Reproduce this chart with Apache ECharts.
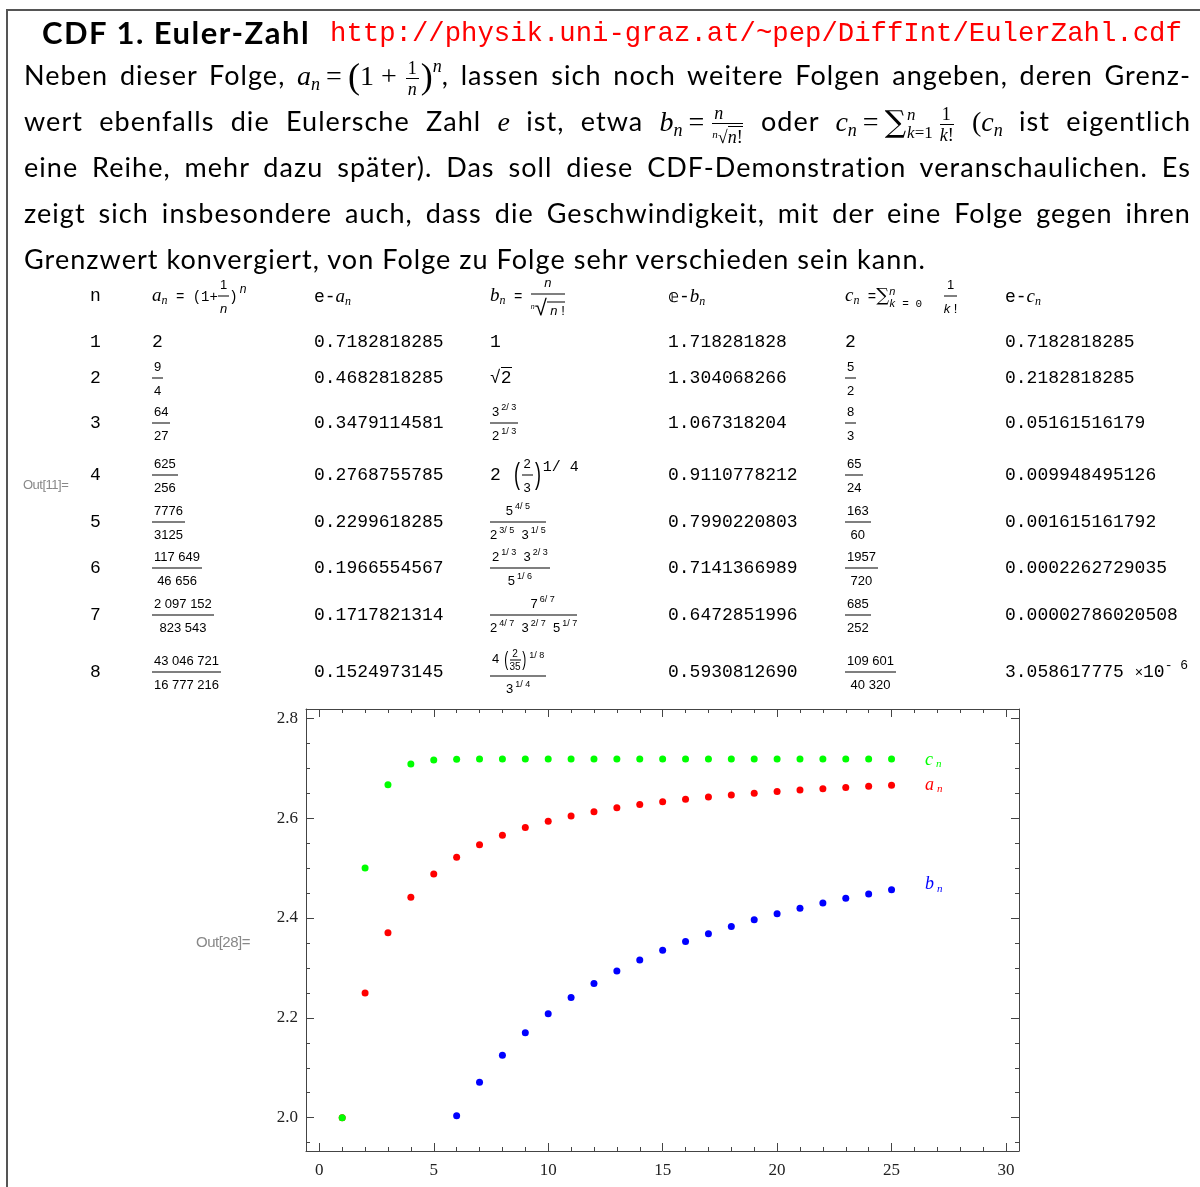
<!DOCTYPE html>
<html>
<head>
<meta charset="utf-8">
<script src="https://cdn.jsdelivr.net/npm/echarts@6/dist/echarts.min.js"></script>
<style>
  html, body { margin:0; padding:0; background:#fff; }
  #page { position:relative; width:1200px; height:1187px; overflow:hidden; }
  #chart { position:absolute; left:0; top:0; width:1200px; height:1187px; z-index:0; }
  .box { position:absolute; left:6px; top:9px; width:1300px; height:1300px; border-left:2px solid #555; border-top:2px solid #555; }
  .title { position:absolute; left:42px; top:12px; font-family:Lato, sans-serif; font-weight:bold; font-size:31px; letter-spacing:1.5px; line-height:40px; z-index:1; }
  .url { position:absolute; left:330px; top:14px; font-family:'Liberation Mono', monospace; font-size:27.3px; line-height:40px; color:#f00; z-index:1; }
  .line { position:absolute; left:24px; width:1167px; height:46px; line-height:46px; font-family:Lato, sans-serif; font-size:27px; letter-spacing:1.05px; text-align:justify; text-align-last:justify; z-index:1; white-space:nowrap; }
  .line.last { text-align-last:left; }
  .line.j { white-space:normal; }
  .m { font-family:'Liberation Serif', serif; font-size:28px; letter-spacing:0; display:inline-block; white-space:nowrap; line-height:46px; }
  .m sub { font-size:18px; vertical-align:-5px; line-height:0; }
  .m sup { font-size:18px; vertical-align:13px; line-height:0; }
  .eq { margin:0 6px; }
  .ifr { display:inline-flex; flex-direction:column; align-items:center; vertical-align:middle; font-size:18px; line-height:18px; margin:0 2px; }
  .ifr > span:first-child { border-bottom:1px solid #000; padding:0 2px 1px; align-self:stretch; text-align:center; }
  .ifr > span:last-child { padding-top:1px; }
  .bigp { font-size:36px; vertical-align:-3px; }
  .ol { border-top:1px solid #000; }
  .sig { font-family:'DejaVu Serif', serif; font-size:30px; vertical-align:-1px; }
  .lim { display:inline-flex; flex-direction:column; font-size:17px; line-height:18px; vertical-align:11px; margin-left:1px; margin-right:5px; }
  .out { position:absolute; font-family:'Liberation Sans', sans-serif; color:#888; z-index:1; letter-spacing:-0.5px; }
  .tc { position:absolute; z-index:1; transform:translateY(-50%); font-family:'Liberation Mono', monospace; font-size:18px; white-space:nowrap; line-height:20px; }
  .fr { display:inline-flex; flex-direction:column; align-items:center; vertical-align:middle; font-family:'Liberation Sans', sans-serif; font-size:13px; line-height:15px; }
  .fr > .nu { border-bottom:1px solid #000; padding:0 2px 4px; align-self:stretch; text-align:center; }
  .fr > .de { padding-top:4px; }
  .fr .fr { font-size:10px; line-height:10px; }
  .fr .fr > .nu { padding-bottom:1px; }
  .fr .fr > .de { padding-top:1px; }
  sup.ex { font-size:9px; vertical-align:6px; line-height:0; margin-left:2px; }
  .bp { font-size:30px; font-family:'Liberation Sans', sans-serif; transform:scaleX(0.6); display:inline-block; vertical-align:-4px; }
  .bp2 { font-size:20px; font-family:'Liberation Sans', sans-serif; transform:scaleX(0.6); display:inline-block; vertical-align:-2px; }
  sup.bx { font-size:15px; vertical-align:9px; line-height:0; }
  .vi { font-family:'Liberation Serif', serif; font-style:italic; font-size:19px; }
  .vs { font-family:'Liberation Serif', serif; font-style:italic; font-size:12px; vertical-align:-3px; line-height:0; }
  .sm { font-size:14px; }
  .tlim { display:inline-flex; flex-direction:column; font-size:11px; line-height:12px; vertical-align:6px; }
</style>
</head>
<body>
<div id="page">
  <div id="chart"></div>
  <div class="box"></div>
  <div class="title">CDF 1. Euler-Zahl</div>
  <div class="url">http://physik.uni-graz.at/~pep/DiffInt/EulerZahl.cdf</div>

  <div class="line j" style="top:52px">Neben dieser Folge, <span class="m"><i>a</i><sub><i>n</i></sub><span class="eq">=</span><span class="bigp">(</span>1 + <span class="ifr"><span>1</span><span><i>n</i></span></span><span class="bigp">)</span><sup><i>n</i></sup></span>, lassen sich noch weitere Folgen angeben, deren Grenz-</div>
  <div class="line j" style="top:98px">wert ebenfalls die Eulersche Zahl <span class="m"><i>e</i></span> ist, etwa <span class="m"><i>b</i><sub><i>n</i></sub><span class="eq">=</span><span class="ifr"><span><i>n</i></span><span><span style="font-size:11px;vertical-align:5px"><i>n</i></span>&#8730;<span class="ol"><i>n</i>!</span></span></span></span> oder <span class="m"><i>c</i><sub><i>n</i></sub><span class="eq">=</span><span class="sig">&#8721;</span><span class="lim"><span><i>n</i></span><span><i>k</i>=1</span></span><span class="ifr"><span>1</span><span><i>k</i>!</span></span></span> <span class="m">(<i>c</i><sub><i>n</i></sub></span> ist eigentlich</div>
  <div class="line j" style="top:144px">eine Reihe, mehr dazu später). Das soll diese CDF-Demonstration veranschaulichen. Es</div>
  <div class="line j" style="top:190px">zeigt sich insbesondere auch, dass die Geschwindigkeit, mit der eine Folge gegen ihren</div>
  <div class="line last" style="top:236px">Grenzwert konvergiert, von Folge zu Folge sehr verschieden sein kann.</div>

  <div class="out" style="left:23px;top:477px;font-size:13px">Out[11]=</div>
  <div class="out" style="left:196px;top:933px;font-size:15px">Out[28]=</div>
  <div id="table"></div>
</div>
<script>
  // Werte der Folgen fuer n = 1 .. 25
  const nValues = [1, 2, 3, 4, 5, 6, 7, 8, 9, 10, 11, 12, 13, 14, 15, 16, 17, 18, 19, 20, 21, 22, 23, 24, 25];
  const aValues = [2.0, 2.25, 2.3704, 2.4414, 2.4883, 2.5216, 2.5465, 2.5658, 2.5812, 2.5937, 2.6042, 2.6130, 2.6206,
                   2.6272, 2.6329, 2.6379, 2.6424, 2.6464, 2.6500, 2.6533, 2.6563, 2.6590, 2.6615, 2.6637, 2.6658];
  const bValues = [1.0, 1.4142, 1.6510, 1.8074, 1.9194, 2.0038, 2.0710, 2.1252, 2.1701, 2.2081, 2.2407, 2.2689, 2.2937,
                   2.3157, 2.3352, 2.3528, 2.3687, 2.3832, 2.3964, 2.4084, 2.4196, 2.4299, 2.4394, 2.4483, 2.4566];
  const cValues = [2.0, 2.5, 2.6667, 2.7083, 2.7167, 2.7181, 2.7183, 2.7183, 2.7183, 2.7183, 2.7183, 2.7183, 2.7183,
                   2.7183, 2.7183, 2.7183, 2.7183, 2.7183, 2.7183, 2.7183, 2.7183, 2.7183, 2.7183, 2.7183, 2.7183];

  // Tabelle
  const tableN = ['1', '2', '3', '4', '5', '6', '7', '8'];
  const tableANum = ['2', '9', '64', '625', '7776', '117 649', '2 097 152', '43 046 721'];
  const tableADen = ['', '4', '27', '256', '3125', '46 656', '823 543', '16 777 216'];
  const tableEA = ['0.7182818285', '0.4682818285', '0.3479114581', '0.2768755785', '0.2299618285', '0.1966554567', '0.1717821314', '0.1524973145'];
  const tableEB = ['1.718281828', '1.304068266', '1.067318204', '0.9110778212', '0.7990220803', '0.7141366989', '0.6472851996', '0.5930812690'];
  const tableCNum = ['2', '5', '8', '65', '163', '1957', '685', '109 601'];
  const tableCDen = ['', '2', '3', '24', '60', '720', '252', '40 320'];
  const tableEC = ['0.7182818285', '0.2182818285', '0.05161516179', '0.009948495126', '0.001615161792', '0.0002262729035', '0.00002786020508', '3.058617775'];

  function fr(nu, de) {
    return '<span class="fr"><span class="nu">' + nu + '</span><span class="de">' + de + '</span></span>';
  }
  function pw(b, e) {
    return b + '<sup class="ex">' + e + '</sup>';
  }
  const tableB = [
    '1',
    '&#8730;<span class="ol">2</span>',
    fr(pw('3', '2/ 3'), pw('2', '1/ 3')),
    '2 <span class="bp">(</span>' + fr('2', '3') + '<span class="bp">)</span><sup class="bx">1/ 4</sup>',
    fr(pw('5', '4/ 5'), pw('2', '3/ 5') + '&nbsp; ' + pw('3', '1/ 5')),
    fr(pw('2', '1/ 3') + '&nbsp; ' + pw('3', '2/ 3'), pw('5', '1/ 6')),
    fr('&nbsp;&nbsp;&nbsp;&nbsp;&nbsp;' + pw('7', '6/ 7'), pw('2', '4/ 7') + '&nbsp; ' + pw('3', '2/ 7') + '&nbsp; ' + pw('5', '1/ 7')),
    fr('4 <span class="bp2">(</span>' + fr('2', '35') + '<span class="bp2">)</span>' + pw('', '1/ 8'), pw('3', '1/ 4'))
  ];

  const colX = [90, 152, 314, 490, 668, 845, 1005];
  const rowY = [296, 342, 378, 423, 475, 522, 568, 615, 672];

  const header = [
    'n',
    '<i class="vi">a</i><sub class="vs">n</sub><span class="sm"> = (1+</span>' + fr('1', '<i>n</i>') + '<span class="sm">)</span><sup class="ex" style="font-size:12px;vertical-align:8px"><i>n</i></sup>',
    'e-<i class="vi">a</i><sub class="vs">n</sub>',
    '<i class="vi">b</i><sub class="vs">n</sub><span class="sm"> = </span>' + fr('<i>n</i>', '<span style="font-size:7px;vertical-align:6px"><i>n</i></span><span style="font-size:22px">&#8730;</span><span class="ol">&nbsp;<i>n</i> !</span>'),
    '&#120150;-<i class="vi">b</i><sub class="vs">n</sub>',
    '<i class="vi">c</i><sub class="vs">n</sub><span class="sm"> =</span><span style="font-family:\'DejaVu Serif\';font-size:18px">&#8721;</span><span class="tlim"><span><i>n</i></span><span><i>k</i> = 0</span></span>&nbsp; ' + fr('1', '<i>k</i> !'),
    'e-<i class="vi">c</i><sub class="vs">n</sub>'
  ];

  let html = '';
  function cell(col, row, content) {
    html += '<div class="tc" style="left:' + colX[col] + 'px;top:' + rowY[row] + 'px">' + content + '</div>';
  }
  header.forEach(function (h, i) { cell(i, 0, h); });
  for (let i = 0; i < tableN.length; i++) {
    cell(0, i + 1, tableN[i]);
    cell(1, i + 1, tableADen[i] ? fr(tableANum[i], tableADen[i]) : tableANum[i]);
    cell(2, i + 1, tableEA[i]);
    cell(3, i + 1, tableB[i]);
    cell(4, i + 1, tableEB[i]);
    cell(5, i + 1, tableCDen[i] ? fr(tableCNum[i], tableCDen[i]) : tableCNum[i]);
    cell(6, i + 1, i === 7 ? tableEC[i] + ' <span class="sm">&times;</span>10<sup style="font-size:13px;vertical-align:8px;line-height:0">- 6</sup>' : tableEC[i]);
  }
  document.getElementById('table').innerHTML = html;

  // Rahmen des Plots (Pixel) und Lage der Skala
  const frame = { left: 306, top: 709, right: 1019, bottom: 1151 };
  const x0px = 319.3, x30px = 1006;
  const y28px = 718.3, y20px = 1117.7;
  const xPerUnit = (x30px - x0px) / 30;
  const yPerUnit = (y20px - y28px) / 0.8;
  const xMin = -(x0px - frame.left) / xPerUnit;
  const xMax = 30 + (frame.right - x30px) / xPerUnit;
  const yMax = 2.8 + (y28px - frame.top) / yPerUnit;
  const yMin = 2.0 - (frame.bottom - y20px) / yPerUnit;
  const y195px = y20px + 0.05 * yPerUnit;

  const frameColor = '#444';
  const labelFont = { fontFamily: 'Liberation Serif', fontSize: 17, color: '#222' };

  function seriesData(vals, name, color, dy) {
    return nValues.map(function (n, i) {
      const item = { value: [n, vals[i]] };
      if (i === nValues.length - 1) {
        item.label = {
          show: true, position: 'right', distance: 30, offset: [0, dy],
          formatter: '{v|' + name + '}{s|n}',
          rich: {
            v: { fontFamily: 'Liberation Serif', fontStyle: 'italic', fontSize: 18, color: color },
            s: { fontFamily: 'Liberation Serif', fontStyle: 'italic', fontSize: 11, color: color, padding: [8, 0, 0, 3] }
          }
        };
      }
      return item;
    });
  }

  let chart = echarts.init(document.getElementById('chart'));
  const hidden = { show: false };
  const frameLine = { show: true, onZero: false, lineStyle: { color: frameColor } };
  chart.setOption({
    animation: false,
    grid: [
      { left: frame.left, top: frame.top, width: frame.right - frame.left, height: frame.bottom - frame.top, outerBoundsMode: 'none' },
      { left: x0px, top: frame.top, width: x30px - x0px, height: frame.bottom - frame.top, outerBoundsMode: 'none' },
      { left: frame.left, top: y28px, width: frame.right - frame.left, height: y195px - y28px, outerBoundsMode: 'none' },
      { left: frame.left, top: y28px, width: frame.right - frame.left, height: y20px - y28px, outerBoundsMode: 'none' }
    ],
    xAxis: [
      { gridIndex: 0, type: 'value', position: 'bottom', min: xMin, max: xMax, axisLine: frameLine, axisTick: hidden, axisLabel: hidden, splitLine: hidden },
      { gridIndex: 0, type: 'value', position: 'top', min: xMin, max: xMax, axisLine: frameLine, axisTick: hidden, axisLabel: hidden, splitLine: hidden },
      { gridIndex: 1, type: 'value', position: 'bottom', min: 0, max: 30, interval: 5,
        axisLine: { show: false, onZero: false }, splitLine: hidden,
        axisTick: { inside: true, length: 8, lineStyle: { color: frameColor } },
        minorTick: { show: true, splitNumber: 5, length: 4, lineStyle: { color: frameColor } },
        axisLabel: Object.assign({ margin: 11 }, labelFont) },
      { gridIndex: 1, type: 'value', position: 'top', min: 0, max: 30, interval: 5,
        axisLine: { show: false, onZero: false }, splitLine: hidden, axisLabel: hidden,
        axisTick: { inside: true, length: 8, lineStyle: { color: frameColor } },
        minorTick: { show: true, splitNumber: 5, length: 4, lineStyle: { color: frameColor } } },
      { gridIndex: 2, type: 'value', show: false, min: 0, max: 1 },
      { gridIndex: 3, type: 'value', show: false, min: 0, max: 1 }
    ],
    yAxis: [
      { gridIndex: 0, type: 'value', position: 'left', min: yMin, max: yMax, axisLine: frameLine, axisTick: hidden, axisLabel: hidden, splitLine: hidden },
      { gridIndex: 0, type: 'value', position: 'right', min: yMin, max: yMax, axisLine: frameLine, axisTick: hidden, axisLabel: hidden, splitLine: hidden },
      { gridIndex: 1, type: 'value', show: false, min: 0, max: 1 },
      { gridIndex: 2, type: 'value', position: 'left', min: 1.95, max: 2.8, interval: 0.05,
        axisLine: { show: false, onZero: false }, splitLine: hidden, axisLabel: hidden,
        axisTick: { show: true, inside: true, length: 4, lineStyle: { color: frameColor } } },
      { gridIndex: 2, type: 'value', position: 'right', min: 1.95, max: 2.8, interval: 0.05,
        axisLine: { show: false, onZero: false }, splitLine: hidden, axisLabel: hidden,
        axisTick: { show: true, inside: true, length: 4, lineStyle: { color: frameColor } } },
      { gridIndex: 3, type: 'value', position: 'left', min: 2.0, max: 2.8, interval: 0.2,
        axisLine: { show: false, onZero: false }, splitLine: hidden,
        axisTick: { show: true, inside: true, length: 8, lineStyle: { color: frameColor } },
        axisLabel: Object.assign({ margin: 8, formatter: function (v) { return v.toFixed(1); } }, labelFont) },
      { gridIndex: 3, type: 'value', position: 'right', min: 2.0, max: 2.8, interval: 0.2,
        axisLine: { show: false, onZero: false }, splitLine: hidden, axisLabel: hidden,
        axisTick: { show: true, inside: true, length: 8, lineStyle: { color: frameColor } } }
    ],
    series: [
      { name: 'a', type: 'scatter', xAxisIndex: 0, yAxisIndex: 0, symbolSize: 7, clip: true, itemStyle: { color: '#ff0000', opacity: 1 }, data: seriesData(aValues, 'a', '#ff0000', 0) },
      { name: 'b', type: 'scatter', xAxisIndex: 0, yAxisIndex: 0, symbolSize: 7, clip: true, itemStyle: { color: '#0000ff', opacity: 1 }, data: seriesData(bValues, 'b', '#0000ff', -5) },
      { name: 'c', type: 'scatter', xAxisIndex: 0, yAxisIndex: 0, symbolSize: 7, clip: true, itemStyle: { color: '#00ff00', opacity: 1 }, data: seriesData(cValues, 'c', '#00ff00', 1) }
    ]
  });
</script>
</body>
</html>
